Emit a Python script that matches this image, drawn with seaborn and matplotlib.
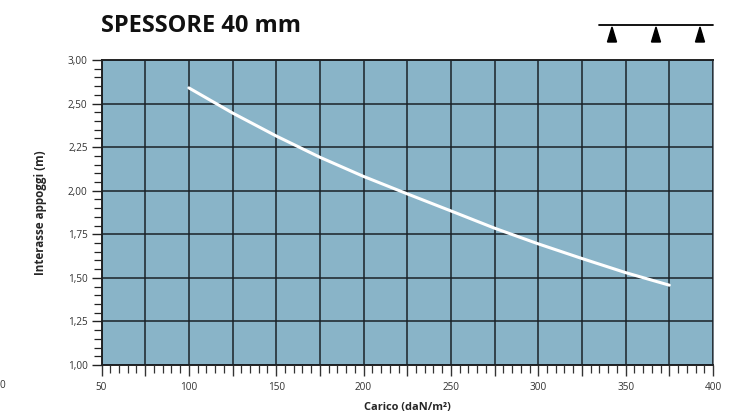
import numpy as np
import pandas as pd
import matplotlib
matplotlib.use("Agg")
import matplotlib.pyplot as plt
from matplotlib.lines import Line2D
from matplotlib.patches import Polygon
import seaborn as sns

# ---- data ----
carico = [100, 125, 150, 175, 200, 225, 250, 275, 300, 325, 350, 375]
interasse = [2.59, 2.446, 2.314, 2.192, 2.082, 1.982, 1.884, 1.785, 1.695, 1.611, 1.530, 1.458]
x_ticks = [50, 100, 150, 200, 250, 300, 350, 400]
x_tick_labels = ["50", "100", "150", "200", "250", "300", "350", "400"]
y_ticks = [1.00, 1.25, 1.50, 1.75, 2.00, 2.25, 2.50, 2.75]
y_tick_labels = ["1,00", "1,25", "1,50", "1,75", "2,00", "2,25", "2,50", "3,00"]
title = "SPESSORE 40 mm"
xlabel = "Carico (daN/m²)"
ylabel = "Interasse appoggi (m)"

df = pd.DataFrame({"carico": carico, "interasse": interasse})

sns.set_style("white")
plt.rcParams["font.family"] = ["Open Sans", "DejaVu Sans"]

fig = plt.figure(figsize=(7.48, 4.17), dpi=100)
ax = fig.add_axes([0.1357, 0.1247, 0.9532 - 0.1357, 0.8561 - 0.1247])
ax.set_facecolor("#89b4c8")

sns.lineplot(data=df, x="carico", y="interasse", ax=ax, color="white", linewidth=2.2)

ax.set_xlim(50, 400)
ax.set_ylim(1.0, 2.75)

# grid
ax.set_xticks(np.arange(50, 401, 25))
ax.set_xticklabels([x_tick_labels[x_ticks.index(v)] if v in x_ticks else "" for v in np.arange(50, 401, 25)])
ax.set_xticks(np.arange(50, 401, 5), minor=True)
ax.set_yticks(y_ticks)
ax.set_yticklabels(y_tick_labels)
ax.set_yticks(np.arange(1.0, 2.751, 0.05), minor=True)
ax.grid(True, which="major", color="#1b2228", linewidth=1.1)
ax.set_axisbelow(False)

ax.tick_params(axis="x", which="major", length=8, width=1.0, color="#333333",
               labelsize=7.2, labelcolor="#333333", pad=4)
ax.tick_params(axis="x", which="minor", length=5.5, width=0.9, color="#333333")
ax.tick_params(axis="y", which="major", length=7.5, width=1.0, color="#222222",
               labelsize=7.2, labelcolor="#333333", pad=2.5)
ax.tick_params(axis="y", which="minor", length=6, width=0.9, color="#222222")
ax.tick_params(bottom=True, left=True, which="both")

for side in ["left", "bottom", "top"]:
    ax.spines[side].set_color("#222222")
    ax.spines[side].set_linewidth(1.4)
ax.spines["right"].set_color("#55606a")
ax.spines["right"].set_linewidth(1.2)

ax.set_xlabel(xlabel, fontsize=7.9, fontweight="bold", labelpad=7)
ax.set_ylabel(ylabel, fontsize=8.4, fontweight="bold", labelpad=15)

for ln in ax.get_lines():
    ln.set_zorder(5)

fig.text(101 / 748, 1 - 26 / 417, title, fontsize=17, fontweight="bold",
         ha="left", va="center", color="#111111")
fig.text(2 / 748, 1 - 385 / 417, "0", fontsize=7.2, color="#333333", ha="center", va="center")

# support symbol at top right
def fx(p):
    return p / 748
def fy(p):
    return 1 - p / 417
fig.lines.append(Line2D([fx(599), fx(713)], [fy(24.5), fy(24.5)], transform=fig.transFigure,
                        color="black", linewidth=1.3))
for cx in [612, 656, 700]:
    tri = Polygon([[fx(cx - 4.5), fy(42)], [fx(cx + 4.5), fy(42)], [fx(cx), fy(27)]],
                  closed=True, transform=fig.transFigure, facecolor="black", edgecolor="black")
    fig.patches.append(tri)

fig.savefig("out.png", dpi=100)
